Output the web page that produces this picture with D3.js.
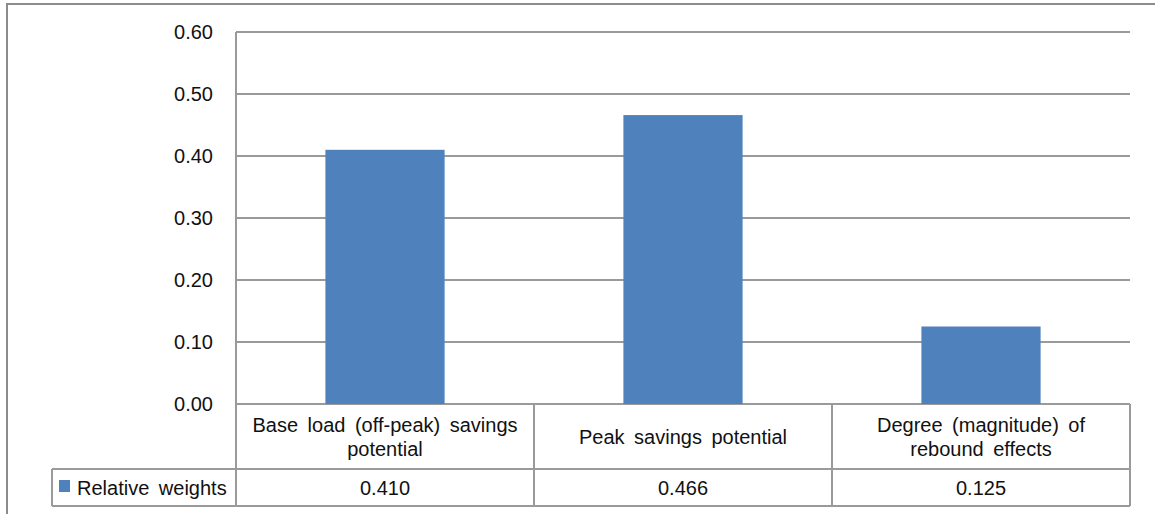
<!DOCTYPE html>
<html><head><meta charset="utf-8">
<script src="https://cdn.jsdelivr.net/npm/d3@7"></script>
<style>body{margin:0;background:#fff;} svg{display:block;}</style>
</head><body>
<svg id="c" width="1155" height="514"></svg>
<script>
const categories = [["Base load (off-peak) savings","potential"],["Peak savings potential"],["Degree (magnitude) of","rebound effects"]];
const seriesName = "Relative weights";
const values = [0.410, 0.466, 0.125];
const valueLabels = ["0.410","0.466","0.125"];
const yTicks = [0, 0.1, 0.2, 0.3, 0.4, 0.5, 0.6];

(function(){
const svg = d3.select("#c");
const font = "'Liberation Sans', Arial, sans-serif";
const fs = 20;
const gridColor = "#9a9a9a";
const pLeft = 236, pRight = 1130, pTop = 32, pBottom = 404;
const row1 = 469, row2 = 506, legendLeft = 52;

// outer frame
svg.append("path").attr("d","M7,514 V4 H1155").attr("fill","none").attr("stroke","#8c8c8c").attr("stroke-width",2);

const x = d3.scaleBand().domain(d3.range(values.length)).range([pLeft, pRight]).padding(0);
const y = d3.scaleLinear().domain([0, 0.6]).range([pBottom, pTop]);

// gridlines
svg.append("g").selectAll("line").data(yTicks).join("line")
  .attr("x1", pLeft).attr("x2", pRight)
  .attr("y1", d => y(d)).attr("y2", d => y(d))
  .attr("stroke", gridColor).attr("stroke-width", 2);

// y tick labels
svg.append("g").selectAll("text").data(yTicks).join("text")
  .attr("x", 213).attr("y", d => y(d) + 7)
  .attr("text-anchor","end").attr("font-family",font).attr("font-size",fs).attr("fill","#111")
  .text(d => d3.format(".2f")(d));

// bars
const bw = x.bandwidth() * 0.4;
svg.append("g").selectAll("rect").data(values).join("rect")
  .attr("x", (d,i) => x(i) + (x.bandwidth()-bw)/2)
  .attr("width", bw)
  .attr("y", d => y(d)).attr("height", d => y(0) - y(d))
  .attr("fill", "#4f81bd");

// table lines
const tl = svg.append("g").attr("stroke", gridColor).attr("stroke-width", 2).attr("fill","none");
tl.append("line").attr("x1",pLeft).attr("x2",pLeft).attr("y1",pTop).attr("y2",row2);
tl.append("line").attr("x1",pRight).attr("x2",pRight).attr("y1",pBottom).attr("y2",row2);
d3.range(1, values.length).forEach(i => {
  tl.append("line").attr("x1",x(i)).attr("x2",x(i)).attr("y1",pBottom).attr("y2",row2);
});
tl.append("line").attr("x1",legendLeft).attr("x2",pRight).attr("y1",row1).attr("y2",row1);
tl.append("line").attr("x1",legendLeft).attr("x2",pRight).attr("y1",row2).attr("y2",row2);
tl.append("line").attr("x1",legendLeft).attr("x2",legendLeft).attr("y1",row1).attr("y2",row2);

// category labels
categories.forEach((lines, i) => {
  const cx = x(i) + x.bandwidth()/2;
  const mid = (pBottom + row1)/2;
  const lh = 24;
  lines.forEach((t, j) => {
    svg.append("text").attr("x", cx)
      .attr("y", mid + (j - (lines.length-1)/2)*lh + 7)
      .attr("text-anchor","middle").attr("font-family",font).attr("font-size",fs)
      .attr("word-spacing", "4px").attr("fill","#111").text(t);
  });
});

// data row
values.forEach((v, i) => {
  svg.append("text").attr("x", x(i) + x.bandwidth()/2).attr("y", (row1+row2)/2 + 7)
    .attr("text-anchor","middle").attr("font-family",font).attr("font-size",fs).attr("fill","#111")
    .text(valueLabels[i]);
});

// legend
svg.append("rect").attr("x", 59).attr("y", 480).attr("width", 11).attr("height", 12).attr("fill","#4f81bd");
svg.append("text").attr("x", 77).attr("y", (row1+row2)/2 + 7).attr("font-family",font).attr("font-size",fs)
  .attr("word-spacing","4px").attr("fill","#111").text(seriesName);
})();
</script>
</body></html>
